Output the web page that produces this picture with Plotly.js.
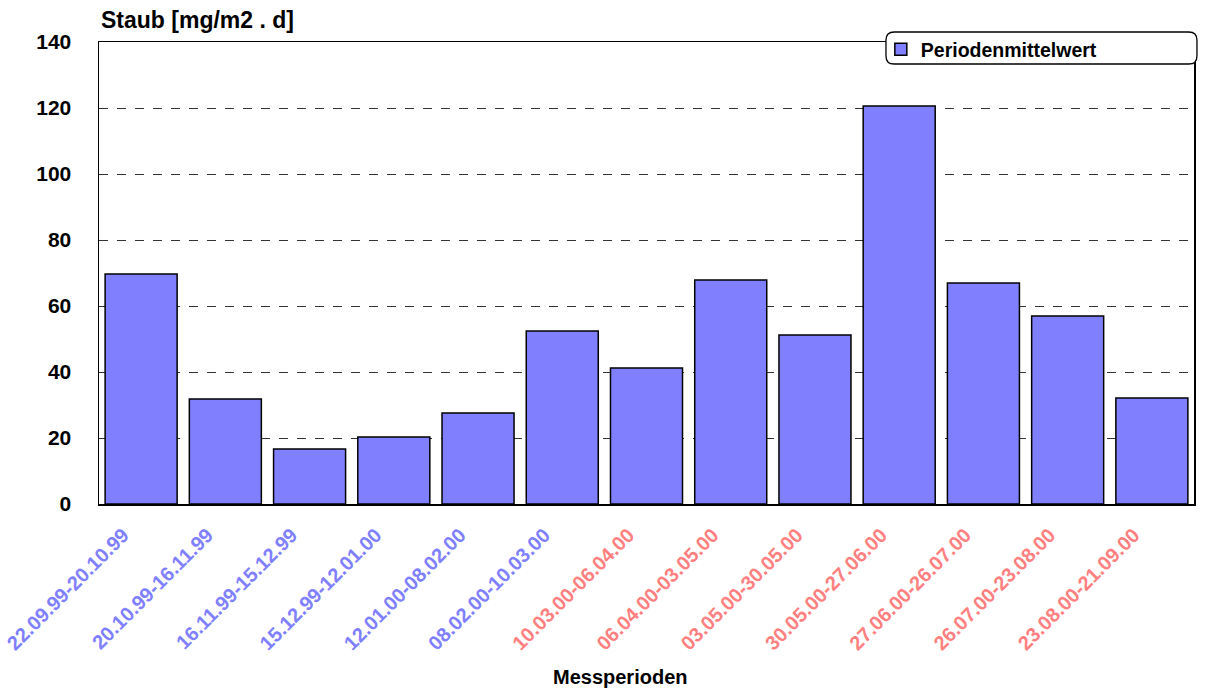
<!DOCTYPE html>
<html>
<head>
<meta charset="utf-8">
<script src="https://cdn.plot.ly/plotly-3.0.1.min.js"></script>
<style>html,body{margin:0;padding:0;background:#fff;}#chart{width:1206px;height:691px;}</style>
</head>
<body>
<div id="chart"></div>
<script>
const periods = ["22.09.99-20.10.99","20.10.99-16.11.99","16.11.99-15.12.99","15.12.99-12.01.00","12.01.00-08.02.00","08.02.00-10.03.00","10.03.00-06.04.00","06.04.00-03.05.00","03.05.00-30.05.00","30.05.00-27.06.00","27.06.00-26.07.00","26.07.00-23.08.00","23.08.00-21.09.00"];
const values = [69.7, 31.8, 16.7, 20.3, 27.6, 52.4, 41.2, 67.9, 51.2, 120.6, 67.0, 57.0, 32.1];
const labelColors = ["#8080FF","#8080FF","#8080FF","#8080FF","#8080FF","#8080FF","#FF8080","#FF8080","#FF8080","#FF8080","#FF8080","#FF8080","#FF8080"];
const yTicks = [0, 20, 40, 60, 80, 100, 120, 140];

const F = "Liberation Sans, Arial, sans-serif";
const tickText = periods.map((p, i) => '<span style="color:' + labelColors[i] + '">' + p + '</span>');

const trace = {
  type: 'bar',
  x: periods,
  y: values,
  name: 'Periodenmittelwert',
  marker: {color: '#8080FF', line: {color: '#000000', width: 1.5}},
  hoverinfo: 'x+y'
};

// rounded legend frame (paper coords)
const x0 = 0.7187, x1 = 1.0027, y0 = 0.9524, y1 = 1.0216, rx = 0.0075, ry = 0.0175;
const legendPath = `M ${x0+rx},${y1} L ${x1-rx},${y1} Q ${x1},${y1} ${x1},${y1-ry} L ${x1},${y0+ry} Q ${x1},${y0} ${x1-rx},${y0} L ${x0+rx},${y0} Q ${x0},${y0} ${x0},${y0+ry} L ${x0},${y1-ry} Q ${x0},${y1} ${x0+rx},${y1} Z`;

const layout = {
  width: 1206, height: 691,
  margin: {l: 99, r: 12, t: 42, b: 187},
  paper_bgcolor: '#ffffff', plot_bgcolor: '#ffffff',
  font: {family: F, size: 20, color: '#000'},
  bargap: 0.145,
  showlegend: true,
  legend: {
    x: 0.7140, y: 1.0260, xanchor: 'left', yanchor: 'top',
    bgcolor: 'rgba(0,0,0,0)', borderwidth: 0,
    font: {family: F, size: 19.5, color: '#000', weight: 'bold'},
    itemwidth: 30, tracegroupgap: 0
  },
  xaxis: {
    type: 'category',
    tickmode: 'array', tickvals: periods, ticktext: tickText,
    tickangle: -45,
    tickfont: {family: F, size: 20, weight: 'bold'},
    ticklabelshift: -18, ticklabelstandoff: 10,
    showline: true, linecolor: '#000', linewidth: 1.5, mirror: true,
    showgrid: false, ticks: '', fixedrange: true
  },
  yaxis: {
    range: [0, 140],
    tickmode: 'array', tickvals: yTicks,
    tickfont: {family: F, size: 21, weight: 'bold', color: '#000'},
    showline: true, linecolor: '#000', linewidth: 1.5, mirror: true,
    showgrid: true, gridcolor: '#333333', gridwidth: 1, griddash: 'dash',
    zeroline: false, ticks: '', ticklabelstandoff: 22, fixedrange: true
  },
  shapes: [
    {type: 'path', xref: 'paper', yref: 'paper', path: legendPath,
     fillcolor: '#ffffff', line: {color: '#000', width: 1.3}, layer: 'above'}
  ],
  annotations: [
    {text: 'Staub [mg/m2 . d]', xref: 'paper', yref: 'paper', x: 0, y: 1.047,
     xanchor: 'left', yanchor: 'middle', showarrow: false,
     font: {family: F, size: 23, weight: 'bold', color: '#000'}},
    {text: 'Messperioden', xref: 'paper', yref: 'paper', x: 0.476, y: -0.374,
     xanchor: 'center', yanchor: 'middle', showarrow: false,
     font: {family: F, size: 20, weight: 'bold', color: '#000'}}
  ]
};

Plotly.newPlot('chart', [trace], layout, {displayModeBar: false, staticPlot: true});
</script>
</body>
</html>
